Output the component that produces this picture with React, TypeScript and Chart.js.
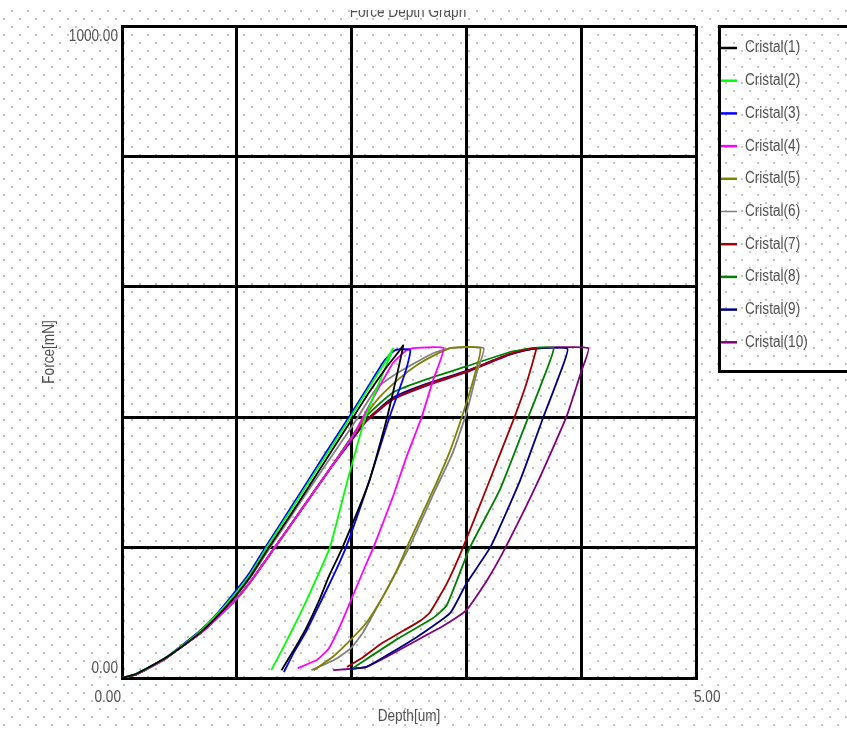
import React, { useEffect, useRef } from 'react';
import { Chart, registerables } from 'chart.js';

Chart.register(...registerables);

// ---- data (depth in um, force in mN) ----
const names = ['Cristal(1)', 'Cristal(2)', 'Cristal(3)', 'Cristal(4)', 'Cristal(5)', 'Cristal(6)', 'Cristal(7)', 'Cristal(8)', 'Cristal(9)', 'Cristal(10)'];
const colors = ['#000000', '#00ff00', '#0000ff', '#ff00ff', '#808000', '#808080', '#a00000', '#008000', '#000080', '#800080'];

const depth1 = [0, 0.12, 0.23, 0.38, 0.52, 0.67, 0.81, 0.98, 1.12, 1.27, 1.49, 1.76, 2.0, 2.16, 2.31, 2.4, 2.45, 2.31, 2.15, 1.92, 1.8, 1.72, 1.6, 1.52, 1.39];
const force1 = [0, 6, 16, 31, 48, 68, 91, 124, 156, 198, 256, 330, 396, 440, 478, 498, 510, 400, 300, 200, 155, 120, 75, 50, 12];

const depth2 = [0, 0.12, 0.23, 0.38, 0.52, 0.67, 0.81, 0.98, 1.12, 1.26, 1.48, 1.75, 1.99, 2.15, 2.3, 2.36, 2.12, 1.96, 1.81, 1.61, 1.5, 1.4, 1.3];
const force2 = [0, 6, 16, 31, 49, 70, 94, 128, 160, 200, 260, 334, 400, 445, 487, 505, 400, 300, 200, 120, 80, 45, 12];

const depth3 = [0, 0.12, 0.23, 0.38, 0.52, 0.67, 0.81, 0.97, 1.11, 1.25, 1.47, 1.74, 1.98, 2.14, 2.29, 2.38, 2.51, 2.47, 2.33, 2.15, 1.95, 1.85, 1.74, 1.6, 1.5, 1.41];
const force3 = [0, 6, 16, 31, 50, 71, 95, 129, 161, 201, 261, 336, 401, 446, 488, 503, 503, 470, 400, 300, 200, 160, 120, 70, 40, 9];

const depth4 = [0, 0.12, 0.23, 0.38, 0.52, 0.67, 0.81, 1.0, 1.15, 1.33, 1.55, 1.8, 2.0, 2.19, 2.36, 2.48, 2.54, 2.8, 2.71, 2.61, 2.48, 2.36, 2.19, 2.13, 2.02, 1.9, 1.8, 1.7, 1.53];
const force4 = [0, 5, 15, 30, 48, 67, 89, 122, 155, 200, 255, 318, 368, 430, 483, 503, 506, 506, 457, 400, 340, 278, 200, 176, 130, 80, 45, 28, 15];

const depth5 = [0, 0.12, 0.23, 0.38, 0.52, 0.67, 0.81, 1.0, 1.15, 1.33, 1.55, 1.8, 2.0, 2.13, 2.25, 2.42, 2.57, 2.71, 2.86, 3.12, 3.06, 2.96, 2.85, 2.71, 2.48, 2.38, 2.27, 2.13, 2.0, 1.84, 1.67];
const force5 = [0, 5, 15, 30, 48, 67, 89, 122, 155, 200, 255, 318, 368, 405, 432, 460, 480, 494, 506, 506, 457, 400, 345, 288, 200, 160, 124, 85, 60, 33, 12];

const depth6 = [0, 0.12, 0.23, 0.38, 0.52, 0.67, 0.81, 0.99, 1.13, 1.29, 1.51, 1.77, 2.0, 2.22, 2.42, 2.71, 2.86, 3.15, 3.09, 3.0, 2.88, 2.72, 2.5, 2.38, 2.27, 2.1, 1.99, 1.85, 1.65];
const force6 = [0, 5, 15, 30, 48, 68, 91, 125, 157, 200, 258, 326, 385, 445, 470, 498, 506, 506, 468, 406, 345, 285, 200, 160, 124, 70, 45, 28, 12];

const depth7 = [0, 0.12, 0.23, 0.38, 0.52, 0.67, 0.81, 1.0, 1.15, 1.33, 1.55, 1.8, 2.0, 2.13, 2.36, 2.65, 3.0, 3.38, 3.58, 3.61, 3.52, 3.41, 3.18, 2.97, 2.83, 2.68, 2.6, 2.27, 2.1, 1.96];
const force7 = [0, 5, 15, 30, 48, 67, 89, 122, 155, 200, 255, 318, 368, 396, 428, 450, 470, 497, 506, 506, 450, 396, 293, 200, 145, 100, 88, 54, 32, 17];

const depth8 = [0, 0.12, 0.23, 0.38, 0.52, 0.67, 0.81, 1.0, 1.15, 1.33, 1.55, 1.8, 2.0, 2.13, 2.36, 2.65, 3.0, 3.38, 3.58, 3.76, 3.65, 3.53, 3.29, 3.03, 2.83, 2.71, 2.4, 2.01];
const force8 = [0, 5, 15, 30, 48, 67, 89, 122, 155, 200, 255, 318, 370, 402, 438, 458, 478, 500, 506, 506, 450, 396, 288, 200, 112, 92, 60, 15];

const depth9 = [0, 0.12, 0.23, 0.38, 0.52, 0.67, 0.81, 1.0, 1.15, 1.33, 1.55, 1.8, 2.0, 2.13, 2.36, 2.65, 3.0, 3.38, 3.58, 3.88, 3.8, 3.67, 3.47, 3.21, 3.0, 2.86, 2.57, 2.13, 1.99];
const force9 = [0, 5, 15, 30, 48, 67, 89, 122, 155, 200, 255, 318, 366, 396, 430, 451, 471, 497, 505, 505, 460, 400, 304, 201, 145, 100, 63, 17, 14];

const depth10 = [0, 0.12, 0.23, 0.38, 0.52, 0.67, 0.81, 1.0, 1.15, 1.33, 1.55, 1.8, 2.0, 2.13, 2.36, 2.65, 3.0, 3.38, 3.58, 4.06, 4.0, 3.87, 3.62, 3.34, 3.18, 3.0, 2.8, 2.57, 2.13, 1.84];
const force10 = [0, 5, 15, 30, 48, 67, 89, 122, 155, 200, 255, 318, 364, 394, 427, 448, 469, 496, 505, 506, 470, 400, 300, 200, 150, 104, 80, 58, 17, 12];

const depths = [depth1, depth2, depth3, depth4, depth5, depth6, depth7, depth8, depth9, depth10];
const forces = [force1, force2, force3, force4, force5, force6, force7, force8, force9, force10];

const xMin = 0;
const xMax = 5;
const yMin = 0;
const yMax = 1000;
const xLabels = ['0.00', '5.00'];
const yLabels = ['0.00', '1000.00'];
const titleText = 'Force Depth Graph';
const xTitle = 'Depth[um]';
const yTitle = 'Force[mN]';

const FONT = "16px 'Liberation Sans Narrow', 'Liberation Sans', Arial, sans-serif";
const TEXT = '#505050';
const SQUEEZE = 0.85;

function narrowText(ctx: CanvasRenderingContext2D, text: string, x: number, y: number, align: CanvasTextAlign) {
  ctx.save();
  ctx.translate(x, y);
  ctx.scale(SQUEEZE, 1);
  ctx.textAlign = align;
  ctx.fillText(text, 0, 0);
  ctx.restore();
}

const decor = {
  id: 'decor',
  beforeDraw(chart: any) {
    const { ctx, width, height } = chart;
    ctx.save();
    ctx.fillStyle = '#ffffff';
    ctx.fillRect(0, 0, width, height);
    ctx.fillStyle = '#c4c4c4';
    for (let k = 1; ; k++) {
      const y = 2.7 + 8.03 * k;
      if (y > height) break;
      const x0 = k % 2 ? 11.7 : 3.7;
      for (let x = x0; x < width; x += 16.05) {
        ctx.fillRect(Math.round(x) - 1, Math.round(y) - 1, 2, 2);
      }
    }
    ctx.restore();
  },
  afterDraw(chart: any) {
    const { ctx, chartArea } = chart;
    const xs = chart.scales.x;
    const ys = chart.scales.y;
    ctx.save();
    ctx.font = FONT;
    ctx.fillStyle = TEXT;
    ctx.textBaseline = 'middle';
    // y tick labels
    narrowText(ctx, yLabels[1], chartArea.left - 4, ys.getPixelForValue(yMax) + 11, 'right');
    narrowText(ctx, yLabels[0], chartArea.left - 4, ys.getPixelForValue(yMin) - 9, 'right');
    // x tick labels
    narrowText(ctx, xLabels[0], xs.getPixelForValue(xMin) - 1, chartArea.bottom + 20, 'right');
    narrowText(ctx, xLabels[1], xs.getPixelForValue(xMax) - 2, chartArea.bottom + 20, 'left');
    // axis titles
    narrowText(ctx, xTitle, (chartArea.left + chartArea.right) / 2, chartArea.bottom + 39, 'center');
    ctx.save();
    ctx.translate(50, (chartArea.top + chartArea.bottom) / 2);
    ctx.rotate(-Math.PI / 2);
    narrowText(ctx, yTitle, 0, 0, 'center');
    ctx.restore();
    // title (top clipped as in the original)
    ctx.save();
    ctx.beginPath();
    ctx.rect(0, 10, chart.width, 30);
    ctx.clip();
    ctx.textBaseline = 'alphabetic';
    narrowText(ctx, titleText, 408, 17, 'center');
    ctx.restore();
    // legend
    ctx.strokeStyle = '#000';
    ctx.lineWidth = 3;
    ctx.strokeRect(719.5, 26.5, 200, 345);
    for (let i = 0; i < names.length; i++) {
      const y = 48 + 32.7 * i;
      ctx.strokeStyle = colors[i];
      ctx.lineWidth = i === 5 ? 1.5 : 2.5;
      ctx.beginPath();
      ctx.moveTo(721, y);
      ctx.lineTo(737, y);
      ctx.stroke();
      ctx.fillStyle = TEXT;
      narrowText(ctx, names[i], 745, y, 'left');
    }
    ctx.restore();
  },
};

export default function App() {
  const ref = useRef<HTMLCanvasElement>(null);
  useEffect(() => {
    if (!ref.current) return;
    const datasets = names.map((n, i) => ({
      label: n,
      data: depths[i].map((d, j) => ({ x: d, y: forces[i][j] })),
      borderColor: colors[i],
      backgroundColor: colors[i],
      borderWidth: 1.8,
      showLine: true,
      pointRadius: 0,
      tension: 0.15,
      fill: false,
    }));
    const chart = new Chart(ref.current, {
      type: 'scatter',
      data: { datasets },
      options: {
        animation: false,
        responsive: false,
        maintainAspectRatio: false,
        layout: { padding: { left: 0, right: 151, top: 26, bottom: 0 } },
        plugins: { legend: { display: false }, title: { display: false }, tooltip: { enabled: false } },
        scales: {
          x: {
            type: 'linear',
            min: xMin,
            max: xMax,
            ticks: { stepSize: 1, display: false },
            grid: { color: '#000', lineWidth: 3, drawTicks: false },
            border: { display: true, color: '#000', width: 3 },
            afterFit: (s: any) => { s.height = 53; },
          },
          y: {
            type: 'linear',
            min: yMin,
            max: yMax,
            ticks: { stepSize: 200, display: false },
            grid: { color: '#000', lineWidth: 3, drawTicks: false },
            border: { display: true, color: '#000', width: 3 },
            afterFit: (s: any) => { s.width = 122; },
          },
        },
      } as any,
      plugins: [decor],
    });
    return () => chart.destroy();
  }, []);
  return (
    <div style={{ position: 'fixed', left: 0, top: 0, width: 847, height: 731, background: '#fff' }}>
      <canvas ref={ref} width={847} height={731} style={{ display: 'block' }} />
    </div>
  );
}
